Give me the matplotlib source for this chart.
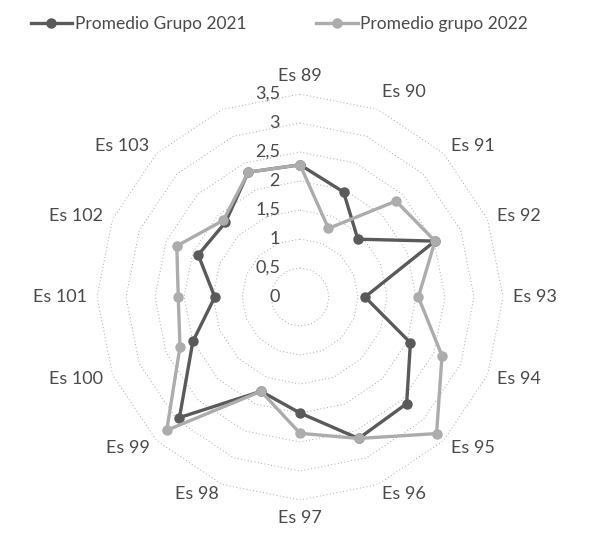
import numpy as np
import matplotlib
matplotlib.use("Agg")
import matplotlib.pyplot as plt

# Datos (16 categorias, la ultima sin nombre)
categorias = ["Es 89", "Es 90", "Es 91", "Es 92", "Es 93", "Es 94", "Es 95", "Es 96",
              "Es 97", "Es 98", "Es 99", "Es 100", "Es 101", "Es 102", "Es 103", ""]
grupo_2021 = [2.28, 1.96, 1.41, 2.52, 1.12, 2.06, 2.6, 2.64,
              2.0, 1.76, 2.94, 2.0, 1.47, 1.9, 1.82, 2.33]
grupo_2022 = [2.28, 1.28, 2.34, 2.52, 2.04, 2.65, 3.33, 2.64,
              2.35, 1.76, 3.25, 2.24, 2.1, 2.3, 1.87, 2.33]
niveles = [0.5, 1, 1.5, 2, 2.5, 3, 3.5]
etiquetas_niveles = ["0", "0,5", "1", "1,5", "2", "2,5", "3", "3,5"]

plt.rcParams['font.family'] = ['Lato', 'DejaVu Sans']
color_texto = "#4a4a4a"
color_2021 = "#5a5a5a"
color_2022 = "#acacac"

n = len(categorias)
angulos = np.arange(n) * 2 * np.pi / n

fig = plt.figure(figsize=(6, 5.37), dpi=100)
ax = fig.add_axes([0.1617, 0.0689, 0.6767, 0.756], projection="polar")
ax.set_theta_zero_location("N")
ax.set_theta_direction(-1)
ax.set_ylim(0, 3.5)
ax.set_xticks([])
ax.set_yticks([])
ax.grid(False)
ax.spines["polar"].set_visible(False)

# Anillos punteados (poligonos)
ang_cerrado = np.append(angulos, angulos[0])
for nivel in niveles:
    ax.plot(ang_cerrado, [nivel] * (n + 1), color="#a8a8a8", lw=0.7,
            ls=(0, (1, 2.5)), zorder=1)

# Series
v21 = np.append(grupo_2021, grupo_2021[0])
v22 = np.append(grupo_2022, grupo_2022[0])
ax.plot(ang_cerrado, v21, color=color_2021, lw=2.4, marker="o", ms=6.5,
        label="Promedio Grupo 2021", zorder=3)
ax.plot(ang_cerrado, v22, color=color_2022, lw=2.4, marker="o", ms=6.5,
        label="Promedio grupo 2022", zorder=4)

# Etiquetas del eje radial
for valor, texto in enumerate(etiquetas_niveles):
    ax.annotate(texto, xy=(0, valor * 0.5), xytext=(-20, 0), textcoords="offset pixels",
                ha="right", va="center", fontsize=13, color=color_texto,
                annotation_clip=False)

# Etiquetas de categorias
for ang, texto in zip(angulos, categorias):
    s, c = np.sin(ang), np.cos(ang)
    if s > 0.01:
        ha = "left"
    elif s < -0.01:
        ha = "right"
    else:
        ha = "center"
    if c > 0.9:
        va = "bottom"
    elif c < -0.99:
        va = "top"
    else:
        va = "center"
    ax.annotate(texto, xy=(ang, 3.5), xytext=(10 * s, 10 * c), textcoords="offset pixels",
                ha=ha, va=va, fontsize=13, color=color_texto,
                annotation_clip=False)

fig.legend(loc="upper left", bbox_to_anchor=(0.025, 1.0), ncol=2, frameon=False,
           fontsize=12.5, handlelength=2.4, columnspacing=4.0, handletextpad=0.15,
           labelcolor=color_texto)

plt.savefig("out.png", dpi=100)
